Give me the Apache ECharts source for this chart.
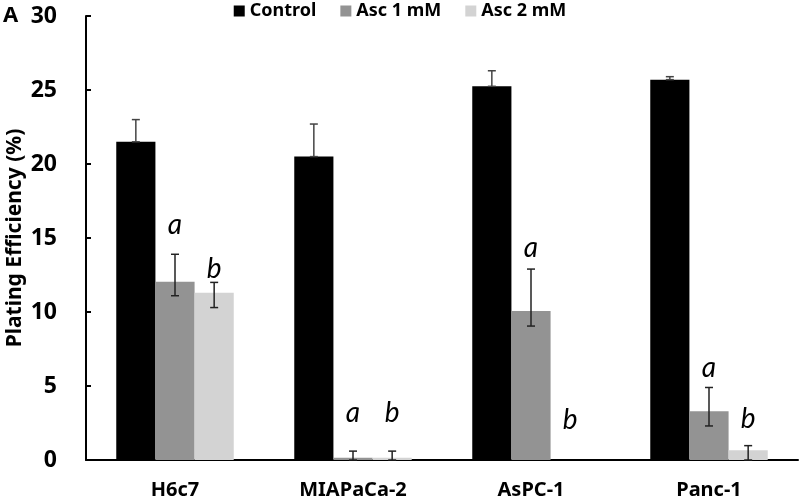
<!DOCTYPE html>
<html>
<head>
<meta charset="utf-8">
<script src="https://cdn.jsdelivr.net/npm/echarts@6/dist/echarts.min.js"></script>
<style>html,body{margin:0;padding:0;background:#fff}#c{width:800px;height:500px}</style>
</head>
<body>
<div id="c"></div>
<script>
var categories = ['H6c7', 'MIAPaCa-2', 'AsPC-1', 'Panc-1'];
var seriesNames = ['Control', 'Asc 1 mM', 'Asc 2 mM'];
var yTicks = [0, 5, 10, 15, 20, 25, 30];

var control   = [21.5, 20.5, 25.25, 25.7];
var controlHi = [23.0, 22.7, 26.3, 25.9];
var controlLo = [21.5, 20.5, 25.25, 25.7];

var asc1   = [12.05, 0.15, 10.07, 3.3];
var asc1Hi = [13.9, 0.6, 12.9, 4.9];
var asc1Lo = [11.1, 0.0, 9.05, 2.3];

var asc2   = [11.3, 0.15, 0, 0.66];
var asc2Hi = [12.0, 0.6, 0, 0.97];
var asc2Lo = [10.3, 0.0, 0, 0.0];

var asc1Letters = ['a', 'a', 'a', 'a'];
var asc1LetterY = [15.9, 3.2, 14.3, 6.2];
var asc2Letters = ['b', 'b', 'b', 'b'];
var asc2LetterY = [12.9, 3.2, 2.7, 2.8];

var colors = ['#000000', '#939393', '#d3d3d3'];
var BAR_FRAC = 0.22;
var FONT = '"Noto Sans", "DejaVu Sans", sans-serif';
var IFONT = 'Lato, "Open Sans", sans-serif';

function errSeries(k, lo, hi, letters, letterY, color) {
  return {
    type: 'custom',
    name: seriesNames[k] + ' err',
    z: 10,
    silent: true,
    data: categories.map(function (c, i) {
      return [i, lo[i], hi[i], letterY ? letterY[i] : null];
    }),
    encode: { x: 0, y: [1, 2] },
    renderItem: function (params, api) {
      var idx = api.value(0);
      var catW = api.size([1, 0])[0];
      var bw = catW * BAR_FRAC;
      var dx = (k - 1) * bw;
      var children = [];
      var loV = api.value(1), hiV = api.value(2);
      if (hiV > loV) {
        var p1 = api.coord([idx, hiV]);
        var p2 = api.coord([idx, loV]);
        var x = p1[0] + dx;
        var cap = 4;
        var st = { stroke: color, lineWidth: 1.5 };
        children.push({ type: 'line', shape: { x1: x, y1: p1[1], x2: x, y2: p2[1] }, style: st });
        children.push({ type: 'line', shape: { x1: x - cap, y1: p1[1], x2: x + cap, y2: p1[1] }, style: st });
        children.push({ type: 'line', shape: { x1: x - cap, y1: p2[1], x2: x + cap, y2: p2[1] }, style: st });
      }
      if (letters) {
        var ly = api.value(3);
        var pl = api.coord([idx, ly]);
        children.push({
          type: 'text',
          style: {
            text: letters[idx], x: pl[0] + dx, y: pl[1],
            align: 'center', verticalAlign: 'middle',
            font: 'italic 28px ' + IFONT, fill: '#000'
          }
        });
      }
      return { type: 'group', children: children };
    }
  };
}

var chart = echarts.init(document.getElementById('c'), null, { renderer: 'canvas' });
chart.setOption({
  animation: false,
  backgroundColor: '#fff',
  color: colors,
  graphic: [
    { type: 'text', left: 3, top: 5, style: { text: 'A', font: 'bold 22px ' + FONT, fill: '#000' } }
  ],
  legend: {
    data: seriesNames,
    top: -3,
    left: 'center',
    itemWidth: 11,
    itemHeight: 11,
    itemGap: 24,
    icon: 'rect',
    textStyle: { fontFamily: FONT, fontWeight: 'bold', fontSize: 18, color: '#000' }
  },
  grid: { left: 86, right: 2, top: 16, bottom: 40, containLabel: false, outerBoundsMode: 'none' },
  xAxis: {
    type: 'category',
    data: categories,
    axisLine: { lineStyle: { color: '#000', width: 2 } },
    axisTick: { inside: true, length: 5, lineStyle: { color: '#000', width: 2 } },
    axisLabel: { margin: 20, fontFamily: FONT, fontWeight: 'bold', fontSize: 20, color: '#000' },
    splitLine: { show: false }
  },
  yAxis: {
    type: 'value',
    min: 0, max: 30, interval: 5,
    name: 'Plating Efficiency (%)',
    nameLocation: 'middle',
    nameGap: 60,
    nameMoveOverlap: false,
    nameTextStyle: { fontFamily: FONT, fontWeight: 'bold', fontSize: 21, color: '#000' },
    axisLine: { show: true, lineStyle: { color: '#000', width: 2 } },
    axisTick: { show: true, inside: true, length: 5, lineStyle: { color: '#000', width: 2 } },
    axisLabel: { margin: 29, fontFamily: FONT, fontWeight: 'bold', fontSize: 23, color: '#000',
      formatter: function (v) { return yTicks.indexOf(v) >= 0 ? String(v) : ''; } },
    splitLine: { show: false }
  },
  series: [
    { type: 'bar', name: seriesNames[0], data: control, barWidth: (BAR_FRAC * 100) + '%', barGap: '0%', itemStyle: { color: colors[0] } },
    { type: 'bar', name: seriesNames[1], data: asc1, barWidth: (BAR_FRAC * 100) + '%', barGap: '0%', itemStyle: { color: colors[1] } },
    { type: 'bar', name: seriesNames[2], data: asc2, barWidth: (BAR_FRAC * 100) + '%', barGap: '0%', itemStyle: { color: colors[2] } },
    errSeries(0, controlLo, controlHi, null, null, '#444'),
    errSeries(1, asc1Lo, asc1Hi, asc1Letters, asc1LetterY, '#222'),
    errSeries(2, asc2Lo, asc2Hi, asc2Letters, asc2LetterY, '#222')
  ]
});
</script>
</body>
</html>
